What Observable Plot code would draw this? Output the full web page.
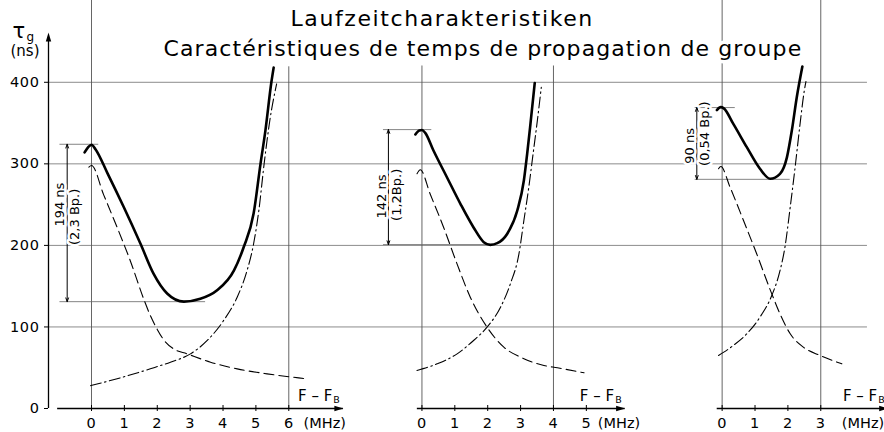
<!DOCTYPE html>
<html><head><meta charset="utf-8">
<script src="https://cdn.jsdelivr.net/npm/d3@7"></script>
<script src="https://cdn.jsdelivr.net/npm/@observablehq/plot@0.6"></script>
<style>
html,body{margin:0;padding:0;background:#fff;}
#chart{width:884px;height:432px;}
</style></head><body><div id="chart"></div>
<script>
// ---------- texts ----------
const titleLine1 = "Laufzeitcharakteristiken";
const titleLine2 = "Caractéristiques de temps de propagation de groupe";
const yLabelSymbol = "τ";
const yLabelSub = "g";
const yLabelUnit = "(ns)";
const xLabelMain = "F – F";
const xLabelSub = "B";
const xUnit = "(MHz)";

// ---------- panels (each panel has its own F-FB axis, in MHz) ----------
const panelOffsets = [0, 10.05, 19.18];          // where each panel's origin sits on the shared MHz scale
const panelTicks = [[0,1,2,3,4,5,6],[0,1,2,3,4,5],[0,1,2,3]];
const axisFrom = [-1.03, -0.14, -0.15];
const axisTo = [7.66, 6.18, 5.05];
const unitLabelAt = [6.45, 5.35, 3.64];
const gridXs = [[0,6],[0,4],[0,3]];
const gridXTops = [[null,419],[420,420],[null,null]];

// ---------- y axis (ns) ----------
const yTicks = [0,100,200,300,400];
const yGrid = [100,200,300,400];

// ---------- curves: [F-FB (MHz), tau_g (ns)] ----------
const p1Total = [[-0.21,314],[-0.1,320.5],[0,323.5],[0.12,318],[0.48,289],[0.98,247],[1.49,202],[1.89,165],[2.3,141],[2.81,131],[3.31,134.5],[3.82,145],[4.33,169],[4.63,198],[4.93,239],[5.14,300],[5.29,341],[5.47,400],[5.54,418]];
const p1Falling = [[-0.08,296],[0,298],[0.37,262],[0.78,222],[1.19,180],[1.59,134],[1.8,113],[2.0,97],[2.2,84],[2.5,73],[2.91,67],[3.62,56.8],[4.43,48.6],[5.34,42.5],[6.3,37.5],[6.5,36.5]];
const p1Rising = [[-0.03,28],[0.78,36.5],[1.79,48.7],[2.4,56.8],[3.01,67],[3.52,83.4],[4.02,108],[4.43,136.5],[4.73,169],[4.93,202],[5.09,243],[5.25,300],[5.43,355],[5.63,398]];

const p2Total = [[-0.2,336],[-0.08,341],[0,341.5],[0.1,338],[0.35,316.4],[0.76,283.6],[1.17,251],[1.57,222],[1.88,204],[2.08,200.7],[2.29,202.7],[2.59,214],[2.9,242.8],[3.1,279.6],[3.2,312.3],[3.3,349],[3.43,399]];
const p2Falling = [[-0.15,287.8],[-0.05,292.7],[0.25,263],[0.66,222],[1.07,177],[1.47,136.5],[1.98,99.7],[2.49,75.2],[3.0,63],[3.71,52.7],[4.12,49.9],[4.93,43.8]];
const p2Rising = [[-0.15,46.6],[0.46,54.8],[1.07,67],[1.57,83.4],[1.98,99.7],[2.39,124.2],[2.69,153],[2.95,189.7],[3.1,230.5],[3.25,271.4],[3.38,312.3],[3.51,353],[3.63,394]];

const p3Total = [[-0.16,366],[-0.04,369.5],[0.05,368],[0.34,349],[0.75,320.4],[1.15,294],[1.46,281.7],[1.76,287.8],[1.97,308],[2.12,341],[2.27,381.7],[2.44,419.4]];
const p3Falling = [[-0.11,294],[-0.04,296.7],[0.24,271.4],[0.65,230.5],[1.05,189.7],[1.51,140.6],[1.76,116],[2.07,91.6],[2.47,75.2],[2.98,65],[3.64,54.8]];
const p3Rising = [[-0.11,65],[0.34,77.3],[0.75,91.6],[1.15,112],[1.51,138.6],[1.76,169],[1.91,197.8],[2.07,246.8],[2.22,296],[2.37,349],[2.5,390],[2.55,401]];

// ---------- dimension annotations (peak-to-minimum spread) ----------
const dimPanel = [0,1,2];
const dimAt = [-0.74,-1.02,-0.77];
const dimTop = [324,342,369];
const dimBottom = [131,201,281];
const dimExtFrom = [-0.96,-1.17,-0.82];
const dimTopTo = [0.22,0.3,0.4];
const dimBottomTo = [3.47,2.25,2.07];
const dimValue = ["194 ns","142 ns","90 ns"];
const dimBand = ["(2,3 Bp.)","(1,2Bp.)","(0,54 Bp.)"];
const dimValueAt = [250,260,322];
const dimBandAt = [235,262,337];

// ---------- build tables ----------
const X_MIN = -1.308, X_MAX = 24.118, Y_MAX = 500.3;
const H_GRID_END = 23.6;
const Y_AXIS_TOP = 461;

const curves = [
  [p1Total, p1Falling, p1Rising],
  [p2Total, p2Falling, p2Rising],
  [p3Total, p3Falling, p3Rising]
];
const kinds = ["total","falling","rising"];
const curveRows = [];
curves.forEach((set, p) => set.forEach((pts, k) => pts.forEach(([x, y]) =>
  curveRows.push({x: x + panelOffsets[p], y, kind: kinds[k], panel: p}))));

const panels = panelOffsets.map((off, i) => ({
  off, from: axisFrom[i] + off, to: axisTo[i] + off, unit: unitLabelAt[i] + off
}));

const vGrid = [];
gridXs.forEach((xs, p) => xs.forEach((x, j) =>
  vGrid.push({x: x + panelOffsets[p], top: gridXTops[p][j] == null ? Y_MAX : gridXTops[p][j]})));

const dims = dimPanel.map((p, i) => {
  const off = panelOffsets[p];
  return {
    x: dimAt[i] + off, top: dimTop[i], bottom: dimBottom[i],
    mid: (dimTop[i] + dimBottom[i]) / 2,
    extFrom: dimExtFrom[i] + off, topTo: dimTopTo[i] + off, bottomTo: dimBottomTo[i] + off,
    value: dimValue[i], band: dimBand[i], valueAt: dimValueAt[i], bandAt: dimBandAt[i]
  };
});

const arrowRight = {draw(ctx) { ctx.moveTo(0,0); ctx.lineTo(-9,-2.7); ctx.lineTo(-9,2.7); ctx.closePath(); }};
const arrowUp = {draw(ctx) { ctx.moveTo(0,0); ctx.lineTo(-2.7,9); ctx.lineTo(2.7,9); ctx.closePath(); }};

const FONT = "DejaVu Sans, Liberation Sans, sans-serif";
const TICK_FS = 14.5;

const xAxes = panels.map((pn, i) => Plot.axisX({
  ticks: panelTicks[i].map(t => t + pn.off),
  tickFormat: d => String(Math.round(d - pn.off)),
  tickSize: 6, dy: -3, tickPadding: 6.7,
  fontSize: TICK_FS, label: null, stroke: "black", fill: "black"
}));

const CURVE = "monotone-x";

const plot = Plot.plot({
  width: 884, height: 432,
  marginLeft: 48, marginRight: 0, marginTop: 0, marginBottom: 24,
  x: {domain: [X_MIN, X_MAX]},
  y: {domain: [0, Y_MAX]},
  style: {fontFamily: FONT, background: "white", color: "black", overflow: "hidden"},
  marks: [
    // grid
    Plot.ruleY(yGrid, {y: d => d, x1: X_MIN, x2: H_GRID_END, stroke: "#8c8c8c", strokeWidth: 1}),
    Plot.ruleX(vGrid, {x: "x", y1: 0, y2: "top", stroke: "#555", strokeWidth: 0.9}),
    // extension lines of dimensions
    Plot.ruleY(dims, {y: "top", x1: "extFrom", x2: "topTo", stroke: "#666", strokeWidth: 0.8}),
    Plot.ruleY(dims, {y: "bottom", x1: "extFrom", x2: "bottomTo", stroke: "#666", strokeWidth: 0.8}),
    // y axis
    Plot.ruleX([X_MIN], {x: d => d, y1: 0, y2: Y_AXIS_TOP - 6, stroke: "black", strokeWidth: 1.3}),
    Plot.dot([X_MIN], {x: d => d, y: Y_AXIS_TOP, symbol: arrowUp, fill: "black", stroke: "none"}),
    Plot.axisY({ticks: yTicks, tickSize: 4, tickPadding: 5, fontSize: TICK_FS, label: null, stroke: "black", fill: "black"}),
    // x axes
    Plot.ruleY(panels, {y: 0, x1: "from", x2: "to", stroke: "black", strokeWidth: 1.3}),
    Plot.dot(panels, {x: "to", y: 0, symbol: arrowRight, fill: "black", stroke: "none"}),
    ...xAxes,
    Plot.text(panels, {x: "unit", y: 0, text: () => xUnit, textAnchor: "start", lineAnchor: "top", dy: 9.7, fontSize: TICK_FS}),
    Plot.text(panels, {x: "to", y: 0, text: () => xLabelMain, textAnchor: "end", lineAnchor: "bottom", dx: -11, dy: -7.5, fontSize: 15}),
    Plot.text(panels, {x: "to", y: 0, text: () => xLabelSub, textAnchor: "start", lineAnchor: "bottom", dx: -10, dy: -6, fontSize: 9.5}),
    // curves
    Plot.line(curveRows.filter(d => d.kind === "falling"), {x: "x", y: "y", z: "panel", curve: CURVE, stroke: "black", strokeWidth: 1.1, strokeDasharray: "10,5"}),
    Plot.line(curveRows.filter(d => d.kind === "rising"), {x: "x", y: "y", z: "panel", curve: CURVE, stroke: "black", strokeWidth: 1.1, strokeDasharray: "11,3.5,1.5,3.5"}),
    Plot.line(curveRows.filter(d => d.kind === "total"), {x: "x", y: "y", z: "panel", curve: CURVE, stroke: "black", strokeWidth: 2.6}),
    // dimension arrows and labels
    Plot.arrow(dims, {x1: "x", y1: "mid", x2: "x", y2: "top", headLength: 6, headAngle: 40, stroke: "black", strokeWidth: 1}),
    Plot.arrow(dims, {x1: "x", y1: "mid", x2: "x", y2: "bottom", headLength: 6, headAngle: 40, stroke: "black", strokeWidth: 1}),
    Plot.text(dims, {x: "x", y: "valueAt", text: "value", rotate: -90, dx: -7, fontSize: 13, fill: "black", stroke: "white", strokeWidth: 5, paintOrder: "stroke"}),
    Plot.text(dims, {x: "x", y: "bandAt", text: "band", rotate: -90, dx: 8, fontSize: 13, fill: "black", stroke: "white", strokeWidth: 5, paintOrder: "stroke"}),
    // y label
    Plot.text([yLabelSymbol], {frameAnchor: "top-left", text: d => d, dx: -36, dy: 37, textAnchor: "start", lineAnchor: "bottom", fontSize: 21}),
    Plot.text([yLabelSub], {frameAnchor: "top-left", text: d => d, dx: -22, dy: 40, textAnchor: "start", lineAnchor: "bottom", fontSize: 12}),
    Plot.text([yLabelUnit], {frameAnchor: "top-left", text: d => d, dx: -38, dy: 55, textAnchor: "start", lineAnchor: "bottom", fontSize: 15}),
    // title
    Plot.text([titleLine1], {frameAnchor: "top-left", text: d => d, dx: 242, dy: 25, textAnchor: "start", lineAnchor: "bottom", fontSize: 22, fill: "black", stroke: "white", strokeWidth: 7, paintOrder: "stroke", ariaDescription: "title1"}),
    Plot.text([titleLine2], {frameAnchor: "top-left", text: d => d, dx: 115, dy: 55, textAnchor: "start", lineAnchor: "bottom", fontSize: 22, fill: "black", stroke: "white", strokeWidth: 7, paintOrder: "stroke", ariaDescription: "title2"})
  ]
});
document.getElementById("chart").appendChild(plot);
d3.select(plot).selectAll('g[aria-description="title1"] text').style("letter-spacing", "1.6px");
d3.select(plot).selectAll('g[aria-description="title2"] text').style("letter-spacing", "1.1px");
d3.select(plot).selectAll('g[aria-label="y-axis tick label"] text, g[aria-label="x-axis tick label"] text').style("letter-spacing", "0.6px");
</script>
</body></html>
